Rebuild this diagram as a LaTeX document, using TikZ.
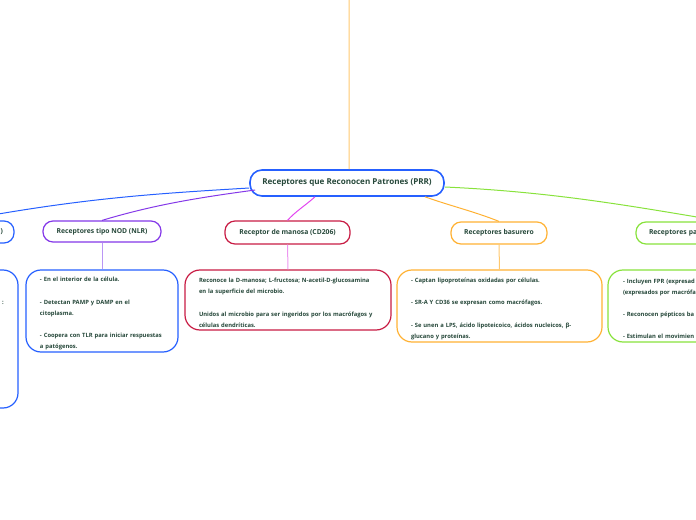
\documentclass[tikz,border=0pt]{standalone}
\usepackage{fontspec}
\setmainfont{Open Sans}
\usepackage{tikz}
\usetikzlibrary{positioning}
\definecolor{prrink}{RGB}{38,72,58}
\definecolor{prrblue}{RGB}{38,96,255}
\definecolor{prrpurple}{RGB}{132,56,232}
\definecolor{prrlilac}{RGB}{186,150,245}
\definecolor{prrcrimson}{RGB}{200,28,68}
\definecolor{prrmagenta}{RGB}{226,70,240}
\definecolor{prrpink}{RGB}{236,150,240}
\definecolor{prrorange}{RGB}{255,178,52}
\definecolor{prrpeach}{RGB}{255,200,110}
\definecolor{prrlime}{RGB}{136,226,60}
\tikzset{
  prrstage/.style={
    rounded corners=10bp,
    line width=1.2bp,
    fill=white,
    align=center,
    text=prrink,
    inner sep=0pt,
    minimum height=22bp,
    font=\bfseries\fontsize{6.8}{8}\selectfont
  },
  prrroot/.style={prrstage,draw=prrblue,line width=1.6bp,rounded corners=12bp,
                  minimum width=194bp,minimum height=26bp,
                  font=\bfseries\fontsize{8.1}{9}\selectfont},
  prrnote/.style={
    rounded corners=15bp,
    line width=1.2bp,
    fill=white,
    align=left,
    text=prrink,
    inner ysep=0pt,
    inner xsep=14bp,
    font=\bfseries\fontsize{5.85}{11.2}\selectfont,
    execute at begin node=\rule{0pt}{10bp}
  },
  prrflow/.style={line width=1bp},
}

\begin{document}
\begin{tikzpicture}[x=1bp,y=-1bp]
  \useasboundingbox (0,0) rectangle (696,520);
  \clip (0,0) rectangle (696,520);

  \node[prrroot] (root) at (347,183) {Receptores que Reconocen Patrones (PRR)};
  \coordinate (top) at (349,0);

  % etiquetas
  \node[prrstage,draw=prrblue,minimum width=104bp,text width=82bp,align=right]
    (toll) at (-38,232) {)};
  \node[prrstage,draw=prrpurple,minimum width=118bp,minimum height=21bp]
    (nod) at (102,231.5) {Receptores tipo NOD (NLR)};
  \node[prrstage,draw=prrcrimson,minimum width=125bp,minimum height=23bp]
    (manosa) at (287.5,232.5) {Receptor de manosa (CD206)};
  \node[prrstage,draw=prrorange,minimum width=96bp]
    (basurero) at (499,233) {Receptores basurero};
  \node[prrstage,draw=prrlime,minimum width=174bp,text width=148bp,align=left]
    (formil) at (723,233) {Receptores pa};

  % notas
  \node[prrnote,draw=prrblue,minimum width=168bp,minimum height=138bp]
    (tollnote) at (-66,339) {};
  \node[text=prrink,inner sep=0pt,font=\bfseries\fontsize{5.85}{11.2}\selectfont]
    (tolltext) at (3,303) {:};
  \node[prrnote,draw=prrblue,text width=124bp,minimum height=82bp]
    (nodnote) at (102,311) {- En el interior de la célula.\\[11.2bp]
      - Detectan PAMP y DAMP en el\\ citoplasma.\\[11.2bp]
      - Coopera con TLR para iniciar respuestas\\ a patógenos.};
  \node[prrnote,draw=prrcrimson,text width=178bp,minimum height=60bp]
    (manosanote) at (288,300) {Reconoce la D-manosa; L-fructosa; N-acetil-D-glucosamina\\
      en la superficie del microbio.\\[11.2bp]
      Unidos al microbio para ser ingeridos por los macrófagos y\\
      células dendríticas.};
  \node[prrnote,draw=prrorange,text width=177bp,minimum height=72bp]
    (basureronote) at (499.5,306) {- Captan lipoproteínas oxidadas por células.\\[11.2bp]
      - SR-A Y CD36 se expresan como macrófagos.\\[11.2bp]
      - Se unen a LPS, ácido lipoteicoico, ácidos nucleicos, β-\\
      glucano y proteínas.};
  \node[prrnote,draw=prrlime,inner xsep=15bp,text width=170bp,minimum height=72bp]
    (formilnote) at (708,306) {- Incluyen FPR (expresad\\
      (expresados por macrófa\\[11.2bp]
      - Reconocen pépticos ba\\[11.2bp]
      - Estimulan el movimien};

  % conectores
  \draw[prrflow,prrpeach] (top) -- ([xshift=2bp]root.north);
  \draw[prrflow,prrblue] ([yshift=-5bp]root.west)
    .. controls +(-100,6) and +(120,-22) .. (toll.north);
  \draw[prrflow,prrpurple] ([shift={(6,7)}]root.west)
    .. controls +(-60,8) and +(50,-15) .. (nod.north);
  \draw[prrflow,prrmagenta] ([xshift=-32bp]root.south)
    .. controls +(-10,9) and +(8,-9) .. (manosa.north);
  \draw[prrflow,prrorange] ([xshift=78bp]root.south)
    .. controls +(25,9) and +(-25,-10) .. (basurero.north);
  \draw[prrflow,prrlime] ([yshift=-4bp]root.east)
    .. controls +(110,5) and +(-90,-15) .. (formil.north);
  \draw[prrflow,prrlilac] (nod.south) -- (nodnote.north);
  \draw[prrflow,prrpink] (manosa.south) -- (manosanote.north);
  \draw[prrflow,prrpeach] (basurero.south) -- (basureronote.north);
  \draw[prrflow,prrlime!60] (formil.south) -- (formilnote.north);
  \draw[prrflow,prrblue!60] (toll.south) -- (tollnote.north);
\end{tikzpicture}
\end{document}
